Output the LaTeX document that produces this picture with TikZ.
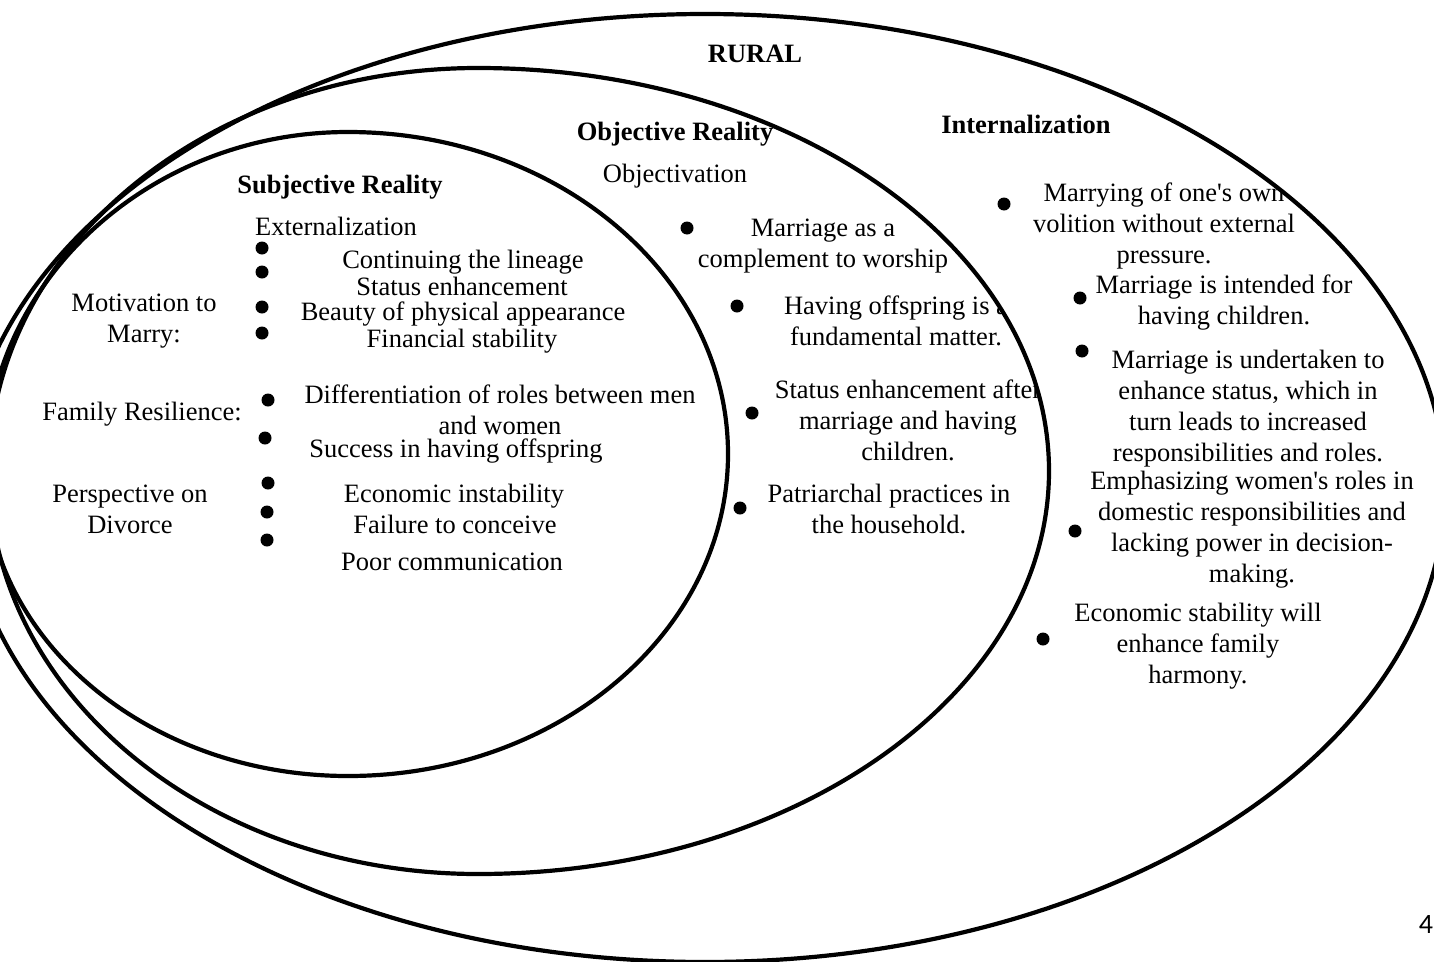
\documentclass[tikz,border=0pt]{standalone}
\usepackage{fontspec}
\setmainfont{Liberation Serif}
\newfontfamily\pagefont{Carlito}
\begin{document}
\begin{tikzpicture}[x=1pt,y=-1pt,
  txt/.style={font=\fontsize{26.5}{31}\selectfont, inner sep=0pt, align=center, anchor=base},
  hdr/.style={txt, font=\fontsize{26.5}{31}\selectfont\bfseries},
  dot/.style={circle, fill=black, inner sep=0pt, minimum size=13pt},
  ring/.style={line width=4.2pt, line join=round},
  % outer region: plain ellipse
  outer outline/.style={insert path={(705,488) ellipse [x radius=740pt, y radius=474pt]}},
  % middle region: wider on the right than on the left
  objective outline/.style={insert path={(478,68)
      arc[start angle=90, end angle=-90, x radius=571pt, y radius=403pt]
      arc[start angle=-90, end angle=-180, x radius=489pt, y radius=403pt]
      arc[start angle=180, end angle=90, x radius=489pt, y radius=403pt] -- cycle}},
  % inner region
  subjective outline/.style={insert path={(348,132)
      arc[start angle=90, end angle=-90, x radius=380pt, y radius=322pt]
      arc[start angle=-90, end angle=-180, x radius=363pt, y radius=306pt]
      arc[start angle=180, end angle=90, x radius=363pt, y radius=338pt] -- cycle}}]
\useasboundingbox (0,0) rectangle (1434,961);
\clip (0,0) rectangle (1434,961);

% ---- Subjective reality (inner region) ----
\node[hdr] (subj) at (340,193) {Subjective Reality};
\node[txt] (ext) at (336,235) {Externalization};
\node[txt] (motiv) at (144,342) {Motivation to\\Marry:};
\node[txt] (resil) at (142,420) {Family Resilience:};
\node[txt] (divorce) at (130,533) {Perspective on\\Divorce};

\node[dot] (sb1) at (262,248) {};
\node[dot] (sb2) at (262,272) {};
\node[dot] (sb3) at (262,307) {};
\node[dot] (sb4) at (262,333) {};
\node[dot] (sb5) at (268,400) {};
\node[dot] (sb6) at (265,438) {};
\node[dot] (sb7) at (268,483) {};
\node[dot] (sb8) at (267,512) {};
\node[dot] (sb9) at (267,540) {};

\node[txt] (m1) at (463,268) {Continuing the lineage};
\node[txt] (m2) at (462,295) {Status enhancement};
\node[txt] (m3) at (463,320) {Beauty of physical appearance};
\node[txt] (m4) at (462,347) {Financial stability};
\node[txt] (r1) at (500,434) {Differentiation of roles between men\\and women};
\node[txt] (r2) at (456,457) {Success in having offspring};
\node[txt] (d1) at (454,502) {Economic instability};
\node[txt] (d2) at (455,533) {Failure to conceive};
\node[txt] (d3) at (452,570) {Poor communication};

% ---- Objective reality (middle region) ----
\node[hdr] (obj) at (675,140) {Objective Reality};
\node[txt] (objv) at (675,182) {Objectivation};

\node[dot] (ob1) at (687,228) {};
\node[dot] (ob2) at (737,306) {};
\node[dot] (ob3) at (752,413) {};
\node[dot] (ob4) at (740,508) {};

\node[txt] (o1) at (823,267) {Marriage as a\\complement to worship};
\begin{scope}
  \clip[objective outline];
  \node[txt] (o2) at (896,345) {Having offspring is a\\fundamental matter.};
  \node[txt] (o3) at (908,460) {Status enhancement after\\marriage and having\\children.};
\end{scope}
\node[txt] (o4) at (889,533) {Patriarchal practices in\\the household.};

% ---- Internalization (outer region) ----
\node[hdr] (rural) at (755,62) {RURAL};
\node[hdr] (intl) at (1026,133) {Internalization};

\node[dot] (ib1) at (1004,204) {};
\node[dot] (ib2) at (1080,298) {};
\node[dot] (ib3) at (1082,351) {};
\node[dot] (ib4) at (1075,531) {};
\node[dot] (ib5) at (1043,639) {};

\begin{scope}
  \clip[outer outline];
  \node[txt] (i1) at (1164,263) {Marrying of one\textquotesingle s own\\volition without external\\pressure.};
\end{scope}
\node[txt] (i2) at (1224,324) {Marriage is intended for\\having children.};
\node[txt] (i3) at (1248,461) {Marriage is undertaken to\\enhance status, which in\\turn leads to increased\\responsibilities and roles.};
\node[txt] (i4) at (1252,582) {Emphasizing women\textquotesingle s roles in\\domestic responsibilities and\\lacking power in decision-\\making.};
\node[txt] (i5) at (1198,683) {Economic stability will\\enhance family\\harmony.};

% ---- nested outlines ----
\draw[ring, outer outline];
\draw[ring, objective outline];
\draw[ring, subjective outline];

% page number
\node[font=\pagefont\fontsize{28}{30}\selectfont, inner sep=0pt, anchor=base] (pg) at (1426,933) {4};
\end{tikzpicture}
\end{document}
